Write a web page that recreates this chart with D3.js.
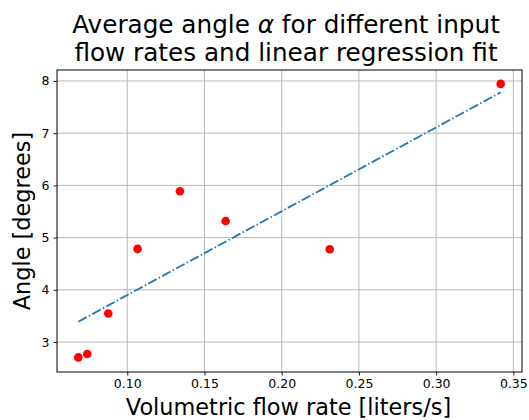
<!DOCTYPE html>
<html><head><meta charset="utf-8">
<script src="https://cdn.jsdelivr.net/npm/d3@7"></script>
<style>body{margin:0;background:#fff}svg{display:block}text{font-family:"DejaVu Sans",sans-serif;fill:#000}</style>
</head><body><svg id="c" width="529" height="420"></svg>
<script>
const flowRates = [0.0683, 0.0741, 0.0877, 0.1067, 0.1341, 0.1637, 0.2311, 0.3418];
const angles = [2.706, 2.771, 3.547, 4.784, 5.887, 5.319, 4.778, 7.944];
const xTicks = [0.10, 0.15, 0.20, 0.25, 0.30, 0.35];
const yTicks = [3, 4, 5, 6, 7, 8];
const titleLines = ["Average angle ", "α", " for different input", "flow rates and linear regression fit"];
const xLabel = "Volumetric flow rate [liters/s]";
const yLabel = "Angle [degrees]";

// linear regression
const n = flowRates.length;
const mx = d3.mean(flowRates), my = d3.mean(angles);
let sxy = 0, sxx = 0;
for (let i = 0; i < n; i++) { sxy += (flowRates[i]-mx)*(angles[i]-my); sxx += (flowRates[i]-mx)**2; }
const slope = sxy/sxx, intercept = my - slope*mx;
const fitX = [d3.min(flowRates), d3.max(flowRates)];
const fit = fitX.map(x => [x, intercept + slope*x]);

const L = 57, T = 70, R = 522, B = 372;
const svg = d3.select("#c");
const x = d3.scaleLinear().domain([0.0545, 0.3556]).range([L, R]);
const y = d3.scaleLinear().domain([2.426, 8.21]).range([B, T]);

// grid
const g = svg.append("g");
g.selectAll("line.gx").data(xTicks).join("line")
  .attr("x1", d => x(d)).attr("x2", d => x(d)).attr("y1", T).attr("y2", B)
  .attr("stroke", "#b0b0b0").attr("stroke-width", 0.9);
g.selectAll("line.gy").data(yTicks).join("line")
  .attr("y1", d => y(d)).attr("y2", d => y(d)).attr("x1", L).attr("x2", R)
  .attr("stroke", "#b0b0b0").attr("stroke-width", 0.9);

// fit line
svg.append("path").datum(fit)
  .attr("d", d3.line().x(d => x(d[0])).y(d => y(d[1])))
  .attr("fill", "none").attr("stroke", "#1f77b4").attr("stroke-width", 1.8)
  .attr("stroke-dasharray", "9.6,2.4,1.5,2.4");

// points
svg.selectAll("circle").data(flowRates).join("circle")
  .attr("cx", d => x(d)).attr("cy", (d, i) => y(angles[i])).attr("r", 4.3)
  .attr("fill", "#ff0000");

// axes
const xa = svg.append("g").attr("transform", `translate(0,${B})`)
  .call(d3.axisBottom(x).tickValues(xTicks).tickFormat(d3.format(".2f")).tickSize(3.5).tickPadding(4));
const ya = svg.append("g").attr("transform", `translate(${L},0)`)
  .call(d3.axisLeft(y).tickValues(yTicks).tickFormat(d3.format("d")).tickSize(3.5).tickPadding(4));
[xa, ya].forEach(a => {
  a.select(".domain").remove();
  a.selectAll("text").attr("font-size", 12.5).attr("font-family", "DejaVu Sans").attr("fill", "#000");
  a.selectAll("line").attr("stroke", "#000").attr("stroke-width", 0.9);
});
svg.append("rect").attr("x", L).attr("y", T).attr("width", R-L).attr("height", B-T)
  .attr("fill", "none").attr("stroke", "#000").attr("stroke-width", 1);

// labels
svg.append("text").attr("x", 288.5).attr("y", 415).attr("text-anchor", "middle")
  .attr("font-size", 22.4).text(xLabel);
svg.append("text").attr("transform", `translate(30,${(T+B)/2}) rotate(-90)`).attr("text-anchor", "middle")
  .attr("font-size", 22.4).text(yLabel);

const t1 = svg.append("text").attr("x", 286).attr("y", 33).attr("text-anchor", "middle").attr("font-size", 24.7);
t1.append("tspan").text(titleLines[0]);
t1.append("tspan").attr("font-style", "italic").text(titleLines[1]);
t1.append("tspan").text(titleLines[2]);
svg.append("text").attr("x", 286).attr("y", 61).attr("text-anchor", "middle").attr("font-size", 24.7).text(titleLines[3]);
</script></body></html>
